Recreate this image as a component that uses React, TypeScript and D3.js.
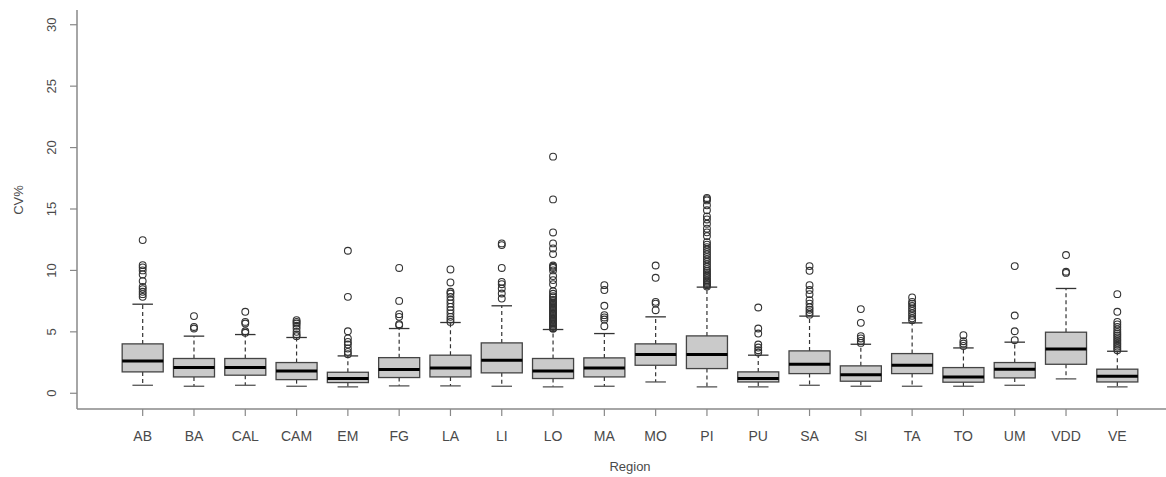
import * as d3 from "d3";

// regions, box stats
const regions = ["AB", "BA", "CAL", "CAM", "EM", "FG", "LA", "LI", "LO", "MA", "MO", "PI", "PU", "SA", "SI", "TA", "TO", "UM", "VDD", "VE"];
const lowWhisker = [0.65, 0.57, 0.65, 0.57, 0.52, 0.6, 0.6, 0.57, 0.52, 0.57, 0.92, 0.52, 0.52, 0.65, 0.57, 0.57, 0.57, 0.65, 1.17, 0.52];
const q1 = [1.74, 1.33, 1.47, 1.11, 0.87, 1.28, 1.33, 1.66, 1.2, 1.33, 2.28, 2.01, 0.92, 1.6, 0.98, 1.6, 0.9, 1.25, 2.36, 0.92];
const median = [2.63, 2.09, 2.09, 1.82, 1.2, 1.93, 2.06, 2.69, 1.82, 2.06, 3.15, 3.15, 1.2, 2.36, 1.5, 2.28, 1.33, 1.96, 3.61, 1.39];
const q3 = [4.02, 2.83, 2.83, 2.5, 1.71, 2.9, 3.1, 4.1, 2.83, 2.88, 4.02, 4.67, 1.74, 3.45, 2.23, 3.23, 2.09, 2.5, 4.97, 1.96];
const highWhisker = [7.25, 4.65, 4.78, 4.54, 3.04, 5.27, 5.76, 7.12, 5.19, 4.86, 6.22, 8.64, 3.1, 6.28, 3.99, 5.73, 3.69, 4.16, 8.53, 3.42];
const outliers: number[][] = [
  [12.47, 10.43, 10.24, 10.0, 9.67, 9.13, 8.66, 8.48, 8.26, 8.07, 7.85],
  [6.28, 5.4, 5.27],
  [6.63, 5.81, 5.68, 5.05, 4.92],
  [5.95, 5.81, 5.68, 5.49, 5.27, 5.0, 4.78, 4.65],
  [11.6, 7.85, 5.05, 4.46, 4.18, 3.97, 3.64, 3.37, 3.18],
  [10.2, 7.52, 6.44, 6.22, 5.62, 5.54],
  [10.08, 9.02, 8.26, 8.12, 7.85, 7.58, 7.31, 7.03, 6.76, 6.5, 6.22, 6.0, 5.81],
  [12.2, 12.06, 10.2, 9.07, 8.88, 8.53, 8.12, 7.71],
  [19.26, 15.78, 13.09, 12.2, 11.79, 11.33, 10.4, 10.3, 10.2, 10.0, 9.54, 9.21, 8.88, 8.3, 8.1, 7.9, 7.8, 7.6, 7.5, 7.4, 7.3, 7.2, 7.1, 7.0, 6.9, 6.8, 6.7, 6.6, 6.5, 6.4, 6.3, 6.2, 6.1, 6.0, 5.9, 5.8, 5.7, 5.6, 5.5, 5.4, 5.3, 5.25],
  [8.8, 8.4, 7.12, 6.36, 6.17, 6.0, 5.46],
  [10.4, 9.4, 7.44, 7.3, 6.76],
  [15.9, 15.8, 15.7, 15.3, 14.9, 14.4, 14.15, 13.8, 13.4, 13.1, 12.8, 12.3, 12.1, 11.9, 11.7, 11.5, 11.3, 11.1, 10.9, 10.7, 10.5, 10.3, 10.1, 9.95, 9.8, 9.65, 9.5, 9.35, 9.2, 9.1, 9.0, 8.9, 8.8, 8.7],
  [6.98, 5.27, 4.86, 3.97, 3.72, 3.5, 3.32],
  [10.35, 9.97, 8.8, 8.4, 8.07, 7.58, 7.3, 7.0, 6.8, 6.6, 6.4],
  [6.85, 5.73, 4.65, 4.46, 4.26, 4.1],
  [7.8, 7.44, 7.3, 7.1, 6.9, 6.7, 6.5, 6.3, 6.1, 5.95],
  [4.73, 4.24, 4.05, 3.85],
  [10.35, 6.33, 5.05, 4.32],
  [11.25, 9.89, 9.8],
  [8.07, 6.63, 5.81, 5.6, 5.4, 5.2, 5.0, 4.85, 4.7, 4.55, 4.4, 4.25, 4.1, 3.95, 3.8, 3.65, 3.5],
];
const yTicks = [0, 5, 10, 15, 20, 25, 30];

const width = 1166;
const height = 477;
const font = "'Liberation Sans', Arial, sans-serif";
const textColor = "#4a4a4a";
const axisColor = "#888";

export default function App() {
  // R style: index positions with 0.8 box width and 4% padding
  const x = d3.scaleLinear().domain([-0.3, 21.3]).range([76, 1184]);
  const y = d3.scaleLinear().domain([-1.2, 31.2]).range([408, 10]);
  const step = x(2) - x(1);
  const boxW = step * 0.8;
  const capW = boxW / 2;

  const left = 77;
  const bottom = y.range()[0] + 1;

  return (
    <svg width={width} height={height} style={{ position: "absolute", left: 0, top: 0, background: "#fff" }}>
      {/* frame: left + bottom */}
      <line x1={left} x2={left} y1={y.range()[1]} y2={bottom} stroke={axisColor} strokeWidth={1.5} />
      <line x1={left} x2={width} y1={bottom} y2={bottom} stroke={axisColor} strokeWidth={1.5} />

      {yTicks.map(t => (
        <g key={t}>
          <line x1={left - 7} x2={left} y1={y(t)} y2={y(t)} stroke={axisColor} strokeWidth={1.2} />
          <text
            transform={`translate(${left - 21},${y(t)}) rotate(-90)`}
            textAnchor="middle"
            fontSize={13}
            fontFamily={font}
            fill={textColor}
          >{t}</text>
        </g>
      ))}
      <text
        transform={`translate(23,200) rotate(-90)`}
        textAnchor="middle"
        fontSize={13}
        fontFamily={font}
        fill={textColor}
      >CV%</text>

      {regions.map((r, i) => {
        const cx = x(i + 1);
        return (
          <g key={r}>
            <line x1={cx} x2={cx} y1={bottom} y2={bottom + 7} stroke={axisColor} strokeWidth={1.2} />
            <text x={cx} y={bottom + 32} textAnchor="middle" fontSize={14} fontFamily={font} fill={textColor}>{r}</text>

            {/* whiskers */}
            <line x1={cx} x2={cx} y1={y(q3[i])} y2={y(highWhisker[i])} stroke="#333" strokeWidth={1.2} strokeDasharray="4,3" />
            <line x1={cx} x2={cx} y1={y(q1[i])} y2={y(lowWhisker[i])} stroke="#333" strokeWidth={1.2} strokeDasharray="4,3" />
            <line x1={cx - capW / 2} x2={cx + capW / 2} y1={y(highWhisker[i])} y2={y(highWhisker[i])} stroke="#333" strokeWidth={1.3} />
            <line x1={cx - capW / 2} x2={cx + capW / 2} y1={y(lowWhisker[i])} y2={y(lowWhisker[i])} stroke="#555" strokeWidth={1.3} />

            {/* box */}
            <rect
              x={cx - boxW / 2}
              y={y(q3[i])}
              width={boxW}
              height={y(q1[i]) - y(q3[i])}
              fill="#cacaca"
              stroke="#444"
              strokeWidth={1.3}
            />
            <line x1={cx - boxW / 2} x2={cx + boxW / 2} y1={y(median[i])} y2={y(median[i])} stroke="#000" strokeWidth={3} />

            {outliers[i].map((v, j) => (
              <circle key={j} cx={cx} cy={y(v)} r={3.4} fill="none" stroke="#333" strokeWidth={1.1} />
            ))}
          </g>
        );
      })}

      <text x={x(10.5)} y={471} textAnchor="middle" fontSize={13} fontFamily={font} fill={textColor}>Region</text>
    </svg>
  );
}
